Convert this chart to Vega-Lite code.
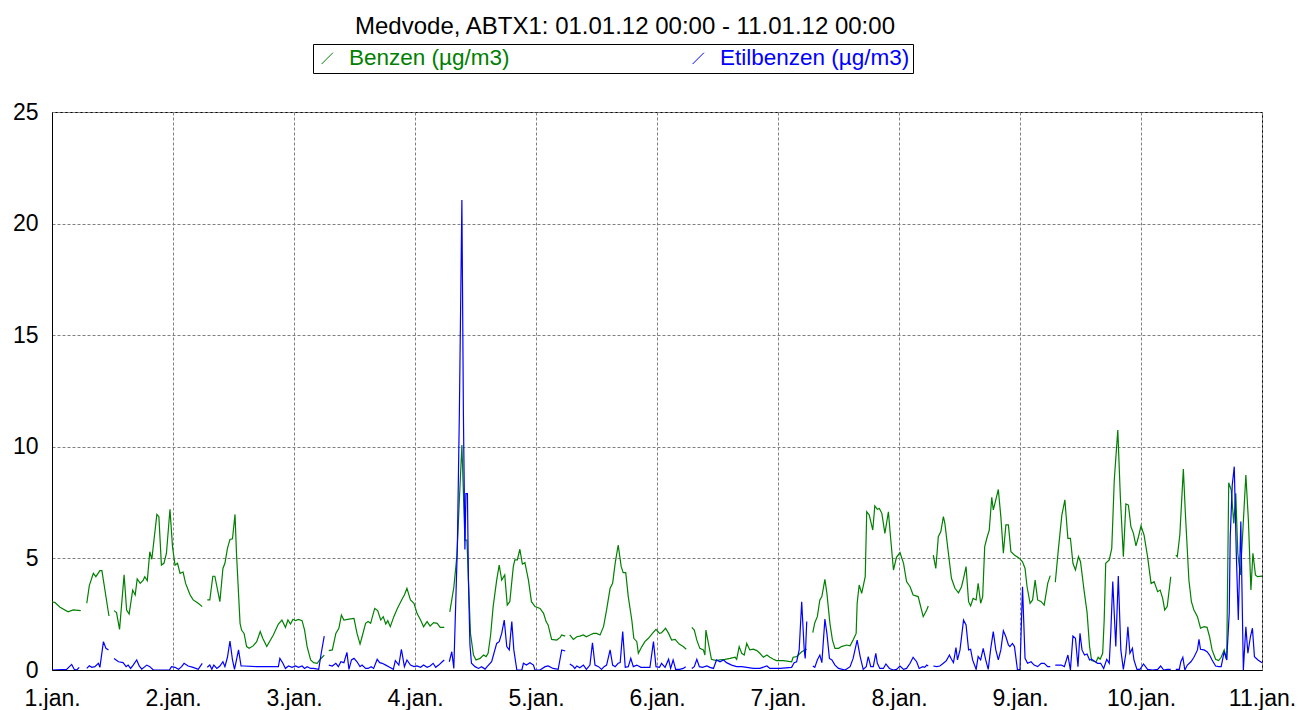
{
"$schema": "https://vega.github.io/schema/vega-lite/v6.json",
"width": 1210, "height": 558,
"autosize": {"type": "none"},
"padding": {"left": 52, "top": 112, "right": 37, "bottom": 40},
"background": "white",
"title": {"text": "Medvode, ABTX1: 01.01.12 00:00 - 11.01.12 00:00", "font": "Liberation Sans", "fontSize": 24, "fontWeight": "normal", "color": "black", "anchor": "middle", "dx": -32, "offset": 5},
"config": {"view": {"stroke": "black", "strokeWidth": 1}},
"data": {"values": [
{"s":"Benzen","h":0,"v":3.06},{"s":"Benzen","h":0.6,"v":3.02},{"s":"Benzen","h":1.6,"v":2.81},{"s":"Benzen","h":3.2,"v":2.61},{"s":"Benzen","h":4.2,"v":2.69},{"s":"Benzen","h":5.7,"v":2.66},{"s":"Benzen","h":6.3,"v":null},
{"s":"Benzen","h":6.9,"v":2.99},{"s":"Benzen","h":7.4,"v":3.78},{"s":"Benzen","h":8.2,"v":4.33},{"s":"Benzen","h":8.7,"v":4.18},{"s":"Benzen","h":9.5,"v":4.45},{"s":"Benzen","h":9.9,"v":4.45},{"s":"Benzen","h":11.3,"v":2.42},{"s":"Benzen","h":11.8,"v":null},
{"s":"Benzen","h":12.3,"v":2.66},{"s":"Benzen","h":12.8,"v":2.57},{"s":"Benzen","h":13.4,"v":1.82},{"s":"Benzen","h":14.3,"v":4.26},{"s":"Benzen","h":14.8,"v":2.69},{"s":"Benzen","h":15.3,"v":2.51},{"s":"Benzen","h":16.0,"v":3.58},{"s":"Benzen","h":16.5,"v":3.36},{"s":"Benzen","h":16.9,"v":4.08},{"s":"Benzen","h":17.5,"v":3.88},{"s":"Benzen","h":18.1,"v":4.03},{"s":"Benzen","h":18.4,"v":4.18},{"s":"Benzen","h":18.9,"v":4.0},{"s":"Benzen","h":19.4,"v":5.3},{"s":"Benzen","h":19.8,"v":4.96},{"s":"Benzen","h":20.8,"v":6.97},{"s":"Benzen","h":21.2,"v":6.87},{"s":"Benzen","h":21.7,"v":4.7},{"s":"Benzen","h":22.2,"v":4.78},{"s":"Benzen","h":22.7,"v":5.23},{"s":"Benzen","h":23.4,"v":7.2},{"s":"Benzen","h":23.9,"v":5.53},{"s":"Benzen","h":24.4,"v":4.7},{"s":"Benzen","h":24.9,"v":4.78},{"s":"Benzen","h":25.4,"v":4.33},{"s":"Benzen","h":26.0,"v":4.39},{"s":"Benzen","h":26.5,"v":3.88},{"s":"Benzen","h":27.4,"v":3.36},{"s":"Benzen","h":28.0,"v":3.14},{"s":"Benzen","h":29.0,"v":2.99},{"s":"Benzen","h":29.8,"v":2.84},{"s":"Benzen","h":30.3,"v":null},
{"s":"Benzen","h":30.8,"v":3.14},{"s":"Benzen","h":31.3,"v":3.14},{"s":"Benzen","h":31.9,"v":4.2},{"s":"Benzen","h":32.3,"v":4.2},{"s":"Benzen","h":33.3,"v":3.06},{"s":"Benzen","h":33.9,"v":4.55},{"s":"Benzen","h":34.3,"v":4.78},{"s":"Benzen","h":34.8,"v":5.45},{"s":"Benzen","h":35.3,"v":5.85},{"s":"Benzen","h":35.8,"v":5.88},{"s":"Benzen","h":36.3,"v":6.97},{"s":"Benzen","h":36.6,"v":5.2},{"s":"Benzen","h":37.3,"v":2.09},{"s":"Benzen","h":37.6,"v":1.79},{"s":"Benzen","h":38.1,"v":1.64},{"s":"Benzen","h":38.6,"v":1.05},{"s":"Benzen","h":39.1,"v":0.97},{"s":"Benzen","h":39.9,"v":1.08},{"s":"Benzen","h":40.6,"v":1.27},{"s":"Benzen","h":41.3,"v":1.72},{"s":"Benzen","h":41.8,"v":1.42},{"s":"Benzen","h":42.6,"v":1.05},{"s":"Benzen","h":43.9,"v":1.57},{"s":"Benzen","h":44.9,"v":2.06},{"s":"Benzen","h":45.6,"v":2.24},{"s":"Benzen","h":46.3,"v":1.91},{"s":"Benzen","h":46.8,"v":2.24},{"s":"Benzen","h":47.3,"v":2.06},{"s":"Benzen","h":47.8,"v":2.27},{"s":"Benzen","h":48.3,"v":2.21},{"s":"Benzen","h":48.9,"v":2.27},{"s":"Benzen","h":49.6,"v":2.21},{"s":"Benzen","h":50.1,"v":1.79},{"s":"Benzen","h":50.6,"v":1.05},{"s":"Benzen","h":51.3,"v":0.45},{"s":"Benzen","h":51.9,"v":0.33},{"s":"Benzen","h":52.6,"v":0.3},{"s":"Benzen","h":53.1,"v":0.45},{"s":"Benzen","h":53.6,"v":0.57},{"s":"Benzen","h":54.0,"v":0.67},{"s":"Benzen","h":54.4,"v":null},
{"s":"Benzen","h":54.9,"v":0.87},{"s":"Benzen","h":55.6,"v":0.9},{"s":"Benzen","h":56.3,"v":1.64},{"s":"Benzen","h":56.9,"v":1.87},{"s":"Benzen","h":57.4,"v":2.46},{"s":"Benzen","h":57.9,"v":2.24},{"s":"Benzen","h":58.9,"v":2.28},{"s":"Benzen","h":59.9,"v":2.31},{"s":"Benzen","h":60.5,"v":1.64},{"s":"Benzen","h":61.1,"v":1.16},{"s":"Benzen","h":61.5,"v":1.49},{"s":"Benzen","h":62.2,"v":2.09},{"s":"Benzen","h":62.7,"v":2.17},{"s":"Benzen","h":63.2,"v":2.09},{"s":"Benzen","h":64.0,"v":2.76},{"s":"Benzen","h":64.6,"v":2.66},{"s":"Benzen","h":65.2,"v":2.24},{"s":"Benzen","h":65.7,"v":2.39},{"s":"Benzen","h":66.2,"v":2.06},{"s":"Benzen","h":66.6,"v":2.21},{"s":"Benzen","h":67.1,"v":1.94},{"s":"Benzen","h":67.8,"v":2.39},{"s":"Benzen","h":68.5,"v":2.76},{"s":"Benzen","h":69.5,"v":3.2},{"s":"Benzen","h":69.9,"v":3.36},{"s":"Benzen","h":70.4,"v":3.66},{"s":"Benzen","h":71.1,"v":3.14},{"s":"Benzen","h":71.8,"v":2.99},{"s":"Benzen","h":72.4,"v":2.54},{"s":"Benzen","h":73.1,"v":2.24},{"s":"Benzen","h":73.7,"v":1.94},{"s":"Benzen","h":74.4,"v":2.17},{"s":"Benzen","h":75.0,"v":1.97},{"s":"Benzen","h":75.7,"v":2.12},{"s":"Benzen","h":76.4,"v":2.09},{"s":"Benzen","h":77.0,"v":1.91},{"s":"Benzen","h":77.8,"v":1.91},{"s":"Benzen","h":78.4,"v":null},
{"s":"Benzen","h":78.9,"v":2.6},{"s":"Benzen","h":79.7,"v":3.7},{"s":"Benzen","h":80.3,"v":5.08},{"s":"Benzen","h":80.8,"v":7.62},{"s":"Benzen","h":81.3,"v":10.08},{"s":"Benzen","h":81.9,"v":5.82},{"s":"Benzen","h":82.3,"v":5.82},{"s":"Benzen","h":82.6,"v":4.03},{"s":"Benzen","h":83.0,"v":1.64},{"s":"Benzen","h":83.6,"v":0.67},{"s":"Benzen","h":84.1,"v":0.45},{"s":"Benzen","h":84.9,"v":0.52},{"s":"Benzen","h":85.6,"v":0.67},{"s":"Benzen","h":86.1,"v":0.6},{"s":"Benzen","h":86.5,"v":0.75},{"s":"Benzen","h":87.0,"v":1.57},{"s":"Benzen","h":87.5,"v":2.84},{"s":"Benzen","h":88.2,"v":4.03},{"s":"Benzen","h":88.7,"v":4.7},{"s":"Benzen","h":89.2,"v":4.03},{"s":"Benzen","h":89.8,"v":4.26},{"s":"Benzen","h":90.3,"v":2.91},{"s":"Benzen","h":90.8,"v":3.06},{"s":"Benzen","h":91.5,"v":4.63},{"s":"Benzen","h":91.8,"v":4.93},{"s":"Benzen","h":92.3,"v":4.93},{"s":"Benzen","h":92.8,"v":5.41},{"s":"Benzen","h":93.3,"v":4.75},{"s":"Benzen","h":93.8,"v":4.81},{"s":"Benzen","h":94.5,"v":4.03},{"s":"Benzen","h":95.1,"v":3.06},{"s":"Benzen","h":95.8,"v":2.84},{"s":"Benzen","h":96.8,"v":2.76},{"s":"Benzen","h":97.5,"v":2.54},{"s":"Benzen","h":98.0,"v":2.17},{"s":"Benzen","h":98.4,"v":2.02},{"s":"Benzen","h":99.1,"v":1.37},{"s":"Benzen","h":100.1,"v":1.34},{"s":"Benzen","h":100.8,"v":1.46},{"s":"Benzen","h":101.1,"v":1.57},{"s":"Benzen","h":101.8,"v":1.52},{"s":"Benzen","h":102.2,"v":null},
{"s":"Benzen","h":102.7,"v":1.57},{"s":"Benzen","h":103.4,"v":1.37},{"s":"Benzen","h":104.1,"v":1.49},{"s":"Benzen","h":104.7,"v":1.52},{"s":"Benzen","h":105.4,"v":1.57},{"s":"Benzen","h":106.0,"v":1.49},{"s":"Benzen","h":106.7,"v":1.57},{"s":"Benzen","h":107.4,"v":1.64},{"s":"Benzen","h":108.0,"v":1.64},{"s":"Benzen","h":108.7,"v":1.57},{"s":"Benzen","h":109.4,"v":1.94},{"s":"Benzen","h":110.0,"v":2.69},{"s":"Benzen","h":110.7,"v":3.66},{"s":"Benzen","h":111.2,"v":3.88},{"s":"Benzen","h":111.7,"v":4.78},{"s":"Benzen","h":112.3,"v":5.6},{"s":"Benzen","h":112.9,"v":4.63},{"s":"Benzen","h":113.3,"v":4.36},{"s":"Benzen","h":113.8,"v":4.36},{"s":"Benzen","h":114.3,"v":3.29},{"s":"Benzen","h":115.0,"v":2.24},{"s":"Benzen","h":115.4,"v":1.42},{"s":"Benzen","h":116.0,"v":1.27},{"s":"Benzen","h":116.3,"v":0.75},{"s":"Benzen","h":117.0,"v":1.05},{"s":"Benzen","h":117.6,"v":1.27},{"s":"Benzen","h":118.3,"v":1.42},{"s":"Benzen","h":119.1,"v":1.64},{"s":"Benzen","h":119.8,"v":1.82},{"s":"Benzen","h":120.5,"v":1.64},{"s":"Benzen","h":120.9,"v":1.67},{"s":"Benzen","h":121.7,"v":1.87},{"s":"Benzen","h":122.3,"v":1.64},{"s":"Benzen","h":122.9,"v":1.34},{"s":"Benzen","h":123.6,"v":1.37},{"s":"Benzen","h":124.4,"v":1.16},{"s":"Benzen","h":125.2,"v":1.05},{"s":"Benzen","h":125.8,"v":0.93},{"s":"Benzen","h":126.3,"v":null},
{"s":"Benzen","h":126.9,"v":1.91},{"s":"Benzen","h":127.4,"v":1.79},{"s":"Benzen","h":127.9,"v":1.34},{"s":"Benzen","h":128.5,"v":0.97},{"s":"Benzen","h":129.2,"v":0.9},{"s":"Benzen","h":129.5,"v":0.67},{"s":"Benzen","h":129.7,"v":1.79},{"s":"Benzen","h":130.2,"v":1.19},{"s":"Benzen","h":130.8,"v":0.48},{"s":"Benzen","h":131.8,"v":0.42},{"s":"Benzen","h":132.5,"v":0.45},{"s":"Benzen","h":133.5,"v":0.48},{"s":"Benzen","h":134.5,"v":0.52},{"s":"Benzen","h":135.5,"v":0.57},{"s":"Benzen","h":135.8,"v":0.48},{"s":"Benzen","h":136.3,"v":1.05},{"s":"Benzen","h":136.8,"v":0.75},{"s":"Benzen","h":137.3,"v":0.67},{"s":"Benzen","h":137.8,"v":1.19},{"s":"Benzen","h":138.4,"v":0.9},{"s":"Benzen","h":139.1,"v":0.93},{"s":"Benzen","h":139.8,"v":0.87},{"s":"Benzen","h":140.4,"v":0.75},{"s":"Benzen","h":141.1,"v":0.57},{"s":"Benzen","h":141.8,"v":0.67},{"s":"Benzen","h":142.4,"v":0.57},{"s":"Benzen","h":143.1,"v":0.48},{"s":"Benzen","h":143.7,"v":0.42},{"s":"Benzen","h":145.1,"v":0.42},{"s":"Benzen","h":146.7,"v":0.37},{"s":"Benzen","h":147.0,"v":0.57},{"s":"Benzen","h":147.7,"v":0.6},{"s":"Benzen","h":148.7,"v":0.82},{"s":"Benzen","h":149.7,"v":0.93},{"s":"Benzen","h":150.3,"v":null},
{"s":"Benzen","h":150.9,"v":1.67},{"s":"Benzen","h":151.3,"v":2.12},{"s":"Benzen","h":151.8,"v":2.39},{"s":"Benzen","h":152.3,"v":3.14},{"s":"Benzen","h":152.7,"v":3.29},{"s":"Benzen","h":153.3,"v":4.06},{"s":"Benzen","h":153.7,"v":3.43},{"s":"Benzen","h":154.3,"v":2.09},{"s":"Benzen","h":154.8,"v":1.34},{"s":"Benzen","h":155.3,"v":0.97},{"s":"Benzen","h":156.0,"v":0.97},{"s":"Benzen","h":156.6,"v":1.05},{"s":"Benzen","h":157.6,"v":1.12},{"s":"Benzen","h":158.3,"v":1.08},{"s":"Benzen","h":158.9,"v":1.34},{"s":"Benzen","h":159.5,"v":1.64},{"s":"Benzen","h":159.7,"v":2.99},{"s":"Benzen","h":160.1,"v":3.81},{"s":"Benzen","h":160.6,"v":3.43},{"s":"Benzen","h":161.3,"v":4.18},{"s":"Benzen","h":161.6,"v":7.09},{"s":"Benzen","h":162.1,"v":6.94},{"s":"Benzen","h":162.8,"v":6.27},{"s":"Benzen","h":163.2,"v":7.35},{"s":"Benzen","h":163.7,"v":7.2},{"s":"Benzen","h":164.1,"v":7.24},{"s":"Benzen","h":164.6,"v":7.02},{"s":"Benzen","h":165.2,"v":6.12},{"s":"Benzen","h":165.9,"v":7.09},{"s":"Benzen","h":166.2,"v":6.27},{"s":"Benzen","h":166.9,"v":4.48},{"s":"Benzen","h":167.5,"v":5.05},{"s":"Benzen","h":168.2,"v":5.26},{"s":"Benzen","h":168.9,"v":4.78},{"s":"Benzen","h":169.5,"v":3.96},{"s":"Benzen","h":170.2,"v":3.73},{"s":"Benzen","h":170.8,"v":3.36},{"s":"Benzen","h":171.8,"v":3.29},{"s":"Benzen","h":172.8,"v":2.39},{"s":"Benzen","h":173.5,"v":2.69},{"s":"Benzen","h":173.8,"v":2.87},{"s":"Benzen","h":174.3,"v":null},
{"s":"Benzen","h":174.8,"v":5.15},{"s":"Benzen","h":175.3,"v":4.55},{"s":"Benzen","h":175.8,"v":5.97},{"s":"Benzen","h":176.3,"v":6.2},{"s":"Benzen","h":176.8,"v":6.87},{"s":"Benzen","h":177.1,"v":6.57},{"s":"Benzen","h":177.8,"v":5.23},{"s":"Benzen","h":178.4,"v":4.11},{"s":"Benzen","h":179.1,"v":3.66},{"s":"Benzen","h":179.8,"v":3.46},{"s":"Benzen","h":180.4,"v":3.73},{"s":"Benzen","h":180.8,"v":4.11},{"s":"Benzen","h":181.3,"v":4.63},{"s":"Benzen","h":181.8,"v":3.06},{"s":"Benzen","h":182.2,"v":2.87},{"s":"Benzen","h":182.7,"v":3.21},{"s":"Benzen","h":183.3,"v":3.14},{"s":"Benzen","h":183.7,"v":3.88},{"s":"Benzen","h":184.2,"v":2.99},{"s":"Benzen","h":184.6,"v":3.29},{"s":"Benzen","h":185.0,"v":5.53},{"s":"Benzen","h":185.5,"v":5.97},{"s":"Benzen","h":185.9,"v":6.27},{"s":"Benzen","h":186.4,"v":7.74},{"s":"Benzen","h":186.7,"v":7.17},{"s":"Benzen","h":187.2,"v":7.62},{"s":"Benzen","h":187.7,"v":8.09},{"s":"Benzen","h":188.2,"v":6.87},{"s":"Benzen","h":188.7,"v":5.23},{"s":"Benzen","h":189.2,"v":6.5},{"s":"Benzen","h":189.7,"v":6.5},{"s":"Benzen","h":190.2,"v":5.3},{"s":"Benzen","h":190.9,"v":5.15},{"s":"Benzen","h":191.9,"v":5.0},{"s":"Benzen","h":192.5,"v":4.85},{"s":"Benzen","h":193.0,"v":4.55},{"s":"Benzen","h":193.4,"v":3.73},{"s":"Benzen","h":194.0,"v":2.99},{"s":"Benzen","h":194.5,"v":3.14},{"s":"Benzen","h":195.0,"v":4.03},{"s":"Benzen","h":195.5,"v":3.14},{"s":"Benzen","h":196.2,"v":3.06},{"s":"Benzen","h":196.8,"v":2.91},{"s":"Benzen","h":197.5,"v":3.88},{"s":"Benzen","h":198.0,"v":4.23},{"s":"Benzen","h":198.5,"v":null},
{"s":"Benzen","h":199.0,"v":3.93},{"s":"Benzen","h":199.6,"v":5.38},{"s":"Benzen","h":200.3,"v":6.94},{"s":"Benzen","h":200.9,"v":7.62},{"s":"Benzen","h":201.5,"v":5.9},{"s":"Benzen","h":202.0,"v":5.9},{"s":"Benzen","h":202.5,"v":4.78},{"s":"Benzen","h":203.0,"v":4.48},{"s":"Benzen","h":203.6,"v":5.08},{"s":"Benzen","h":204.0,"v":4.85},{"s":"Benzen","h":204.7,"v":3.58},{"s":"Benzen","h":205.3,"v":2.58},{"s":"Benzen","h":205.8,"v":1.05},{"s":"Benzen","h":206.2,"v":0.42},{"s":"Benzen","h":207.1,"v":0.37},{"s":"Benzen","h":207.5,"v":0.57},{"s":"Benzen","h":207.9,"v":0.48},{"s":"Benzen","h":208.4,"v":0.75},{"s":"Benzen","h":208.7,"v":2.24},{"s":"Benzen","h":209.0,"v":4.78},{"s":"Benzen","h":209.7,"v":4.93},{"s":"Benzen","h":210.2,"v":5.45},{"s":"Benzen","h":210.7,"v":8.51},{"s":"Benzen","h":211.4,"v":10.75},{"s":"Benzen","h":211.9,"v":7.77},{"s":"Benzen","h":212.5,"v":5.08},{"s":"Benzen","h":213.0,"v":7.44},{"s":"Benzen","h":213.5,"v":7.39},{"s":"Benzen","h":214.0,"v":6.42},{"s":"Benzen","h":214.5,"v":6.12},{"s":"Benzen","h":215.0,"v":5.56},{"s":"Benzen","h":215.5,"v":5.97},{"s":"Benzen","h":216.0,"v":6.45},{"s":"Benzen","h":216.6,"v":6.05},{"s":"Benzen","h":217.3,"v":5.08},{"s":"Benzen","h":218.0,"v":3.88},{"s":"Benzen","h":218.6,"v":3.96},{"s":"Benzen","h":219.3,"v":3.51},{"s":"Benzen","h":219.8,"v":3.58},{"s":"Benzen","h":220.3,"v":3.21},{"s":"Benzen","h":220.7,"v":2.69},{"s":"Benzen","h":221.2,"v":2.84},{"s":"Benzen","h":221.9,"v":4.18},{"s":"Benzen","h":222.4,"v":null},
{"s":"Benzen","h":222.9,"v":5.15},{"s":"Benzen","h":223.2,"v":5.08},{"s":"Benzen","h":223.7,"v":6.05},{"s":"Benzen","h":224.4,"v":9.0},{"s":"Benzen","h":224.8,"v":7.02},{"s":"Benzen","h":225.5,"v":4.03},{"s":"Benzen","h":226.0,"v":3.06},{"s":"Benzen","h":226.5,"v":2.69},{"s":"Benzen","h":227.2,"v":2.39},{"s":"Benzen","h":227.8,"v":1.87},{"s":"Benzen","h":228.5,"v":1.94},{"s":"Benzen","h":229.1,"v":1.91},{"s":"Benzen","h":229.6,"v":1.49},{"s":"Benzen","h":230.1,"v":0.9},{"s":"Benzen","h":230.8,"v":0.48},{"s":"Benzen","h":231.4,"v":0.42},{"s":"Benzen","h":231.9,"v":0.57},{"s":"Benzen","h":232.5,"v":0.9},{"s":"Benzen","h":233.0,"v":0.45},{"s":"Benzen","h":233.4,"v":8.39},{"s":"Benzen","h":233.9,"v":8.06},{"s":"Benzen","h":234.4,"v":6.57},{"s":"Benzen","h":234.8,"v":7.92},{"s":"Benzen","h":235.2,"v":5.23},{"s":"Benzen","h":235.7,"v":4.26},{"s":"Benzen","h":236.1,"v":5.82},{"s":"Benzen","h":236.8,"v":8.74},{"s":"Benzen","h":237.3,"v":6.72},{"s":"Benzen","h":237.8,"v":3.58},{"s":"Benzen","h":238.2,"v":5.23},{"s":"Benzen","h":238.7,"v":4.26},{"s":"Benzen","h":239.1,"v":4.18},{"s":"Benzen","h":240,"v":4.21},
{"s":"Etilbenzen","h":0,"v":0},{"s":"Etilbenzen","h":2.9,"v":0.03},{"s":"Etilbenzen","h":3.9,"v":0.25},{"s":"Etilbenzen","h":4.4,"v":0.03},{"s":"Etilbenzen","h":4.9,"v":0},{"s":"Etilbenzen","h":5.4,"v":0.12},{"s":"Etilbenzen","h":6.2,"v":null},
{"s":"Etilbenzen","h":6.9,"v":0.07},{"s":"Etilbenzen","h":7.4,"v":0.19},{"s":"Etilbenzen","h":7.9,"v":0.12},{"s":"Etilbenzen","h":8.5,"v":0.15},{"s":"Etilbenzen","h":9.2,"v":0.3},{"s":"Etilbenzen","h":9.5,"v":0.12},{"s":"Etilbenzen","h":10.2,"v":1.27},{"s":"Etilbenzen","h":10.7,"v":0.97},{"s":"Etilbenzen","h":11.2,"v":0.9},{"s":"Etilbenzen","h":11.8,"v":null},
{"s":"Etilbenzen","h":12.3,"v":0.52},{"s":"Etilbenzen","h":13.2,"v":0.37},{"s":"Etilbenzen","h":14.1,"v":0.33},{"s":"Etilbenzen","h":14.7,"v":0.15},{"s":"Etilbenzen","h":15.1,"v":0.22},{"s":"Etilbenzen","h":15.6,"v":0.07},{"s":"Etilbenzen","h":16.1,"v":0.22},{"s":"Etilbenzen","h":16.8,"v":0.45},{"s":"Etilbenzen","h":17.3,"v":0.18},{"s":"Etilbenzen","h":17.8,"v":0.04},{"s":"Etilbenzen","h":18.8,"v":0.22},{"s":"Etilbenzen","h":19.4,"v":0.15},{"s":"Etilbenzen","h":20.1,"v":0},{"s":"Etilbenzen","h":23.3,"v":0},{"s":"Etilbenzen","h":23.7,"v":0.15},{"s":"Etilbenzen","h":24.4,"v":0.12},{"s":"Etilbenzen","h":25.1,"v":0.03},{"s":"Etilbenzen","h":25.7,"v":0.15},{"s":"Etilbenzen","h":26.2,"v":0.3},{"s":"Etilbenzen","h":27.0,"v":0.18},{"s":"Etilbenzen","h":28.0,"v":0.12},{"s":"Etilbenzen","h":29.0,"v":0.03},{"s":"Etilbenzen","h":29.8,"v":0.3},{"s":"Etilbenzen","h":30.3,"v":null},
{"s":"Etilbenzen","h":30.8,"v":0.12},{"s":"Etilbenzen","h":31.3,"v":0.22},{"s":"Etilbenzen","h":31.7,"v":0.03},{"s":"Etilbenzen","h":32.1,"v":0.22},{"s":"Etilbenzen","h":32.7,"v":0.07},{"s":"Etilbenzen","h":33.3,"v":0.18},{"s":"Etilbenzen","h":33.9,"v":0.37},{"s":"Etilbenzen","h":34.3,"v":0.15},{"s":"Etilbenzen","h":34.8,"v":0.57},{"s":"Etilbenzen","h":35.3,"v":1.3},{"s":"Etilbenzen","h":35.8,"v":0.45},{"s":"Etilbenzen","h":36.2,"v":0.03},{"s":"Etilbenzen","h":37.0,"v":0.9},{"s":"Etilbenzen","h":37.5,"v":0.18},{"s":"Etilbenzen","h":38.1,"v":0.18},{"s":"Etilbenzen","h":40.6,"v":0.15},{"s":"Etilbenzen","h":43.9,"v":0.15},{"s":"Etilbenzen","h":44.9,"v":0.15},{"s":"Etilbenzen","h":45.2,"v":0.52},{"s":"Etilbenzen","h":45.8,"v":0.3},{"s":"Etilbenzen","h":46.3,"v":0.07},{"s":"Etilbenzen","h":46.9,"v":0.18},{"s":"Etilbenzen","h":47.6,"v":0.12},{"s":"Etilbenzen","h":48.3,"v":0.18},{"s":"Etilbenzen","h":48.9,"v":0.12},{"s":"Etilbenzen","h":49.6,"v":0.18},{"s":"Etilbenzen","h":50.1,"v":0.07},{"s":"Etilbenzen","h":50.6,"v":0.15},{"s":"Etilbenzen","h":51.3,"v":0.07},{"s":"Etilbenzen","h":51.9,"v":0.07},{"s":"Etilbenzen","h":52.9,"v":0.03},{"s":"Etilbenzen","h":53.4,"v":0.75},{"s":"Etilbenzen","h":54.0,"v":1.52},{"s":"Etilbenzen","h":54.4,"v":null},
{"s":"Etilbenzen","h":54.9,"v":0.22},{"s":"Etilbenzen","h":55.6,"v":0.18},{"s":"Etilbenzen","h":56.3,"v":0.3},{"s":"Etilbenzen","h":56.8,"v":0.15},{"s":"Etilbenzen","h":57.3,"v":0.37},{"s":"Etilbenzen","h":57.9,"v":0.33},{"s":"Etilbenzen","h":58.5,"v":0.79},{"s":"Etilbenzen","h":58.9,"v":0.03},{"s":"Etilbenzen","h":59.4,"v":0.45},{"s":"Etilbenzen","h":59.9,"v":0.52},{"s":"Etilbenzen","h":60.5,"v":0.37},{"s":"Etilbenzen","h":61.1,"v":0.15},{"s":"Etilbenzen","h":61.5,"v":0.22},{"s":"Etilbenzen","h":62.2,"v":0.07},{"s":"Etilbenzen","h":62.7,"v":0.07},{"s":"Etilbenzen","h":63.3,"v":0.15},{"s":"Etilbenzen","h":63.8,"v":0.07},{"s":"Etilbenzen","h":64.5,"v":0.48},{"s":"Etilbenzen","h":65.0,"v":0.33},{"s":"Etilbenzen","h":65.5,"v":0.3},{"s":"Etilbenzen","h":66.2,"v":0.22},{"s":"Etilbenzen","h":66.8,"v":0.15},{"s":"Etilbenzen","h":67.7,"v":0.03},{"s":"Etilbenzen","h":68.1,"v":0.42},{"s":"Etilbenzen","h":68.8,"v":0.22},{"s":"Etilbenzen","h":69.3,"v":0.93},{"s":"Etilbenzen","h":69.9,"v":0.15},{"s":"Etilbenzen","h":70.4,"v":0.45},{"s":"Etilbenzen","h":71.1,"v":0.22},{"s":"Etilbenzen","h":71.8,"v":0.15},{"s":"Etilbenzen","h":72.4,"v":0.18},{"s":"Etilbenzen","h":73.1,"v":0.12},{"s":"Etilbenzen","h":73.7,"v":0.22},{"s":"Etilbenzen","h":74.4,"v":0.12},{"s":"Etilbenzen","h":75.0,"v":0.18},{"s":"Etilbenzen","h":75.6,"v":0.3},{"s":"Etilbenzen","h":76.1,"v":0.12},{"s":"Etilbenzen","h":76.7,"v":0.22},{"s":"Etilbenzen","h":77.4,"v":0.37},{"s":"Etilbenzen","h":77.8,"v":0.45},{"s":"Etilbenzen","h":78.3,"v":null},
{"s":"Etilbenzen","h":78.8,"v":0.37},{"s":"Etilbenzen","h":79.3,"v":0.82},{"s":"Etilbenzen","h":79.7,"v":0.07},{"s":"Etilbenzen","h":80.4,"v":5.5},{"s":"Etilbenzen","h":80.8,"v":11.5},{"s":"Etilbenzen","h":81.3,"v":21.06},{"s":"Etilbenzen","h":81.6,"v":11.5},{"s":"Etilbenzen","h":81.9,"v":5.4},{"s":"Etilbenzen","h":82.1,"v":7.9},{"s":"Etilbenzen","h":82.4,"v":7.9},{"s":"Etilbenzen","h":82.6,"v":4.0},{"s":"Etilbenzen","h":82.9,"v":1.12},{"s":"Etilbenzen","h":83.2,"v":0.3},{"s":"Etilbenzen","h":83.9,"v":0.15},{"s":"Etilbenzen","h":84.6,"v":0.07},{"s":"Etilbenzen","h":85.2,"v":0.15},{"s":"Etilbenzen","h":85.9,"v":0.04},{"s":"Etilbenzen","h":86.3,"v":0.15},{"s":"Etilbenzen","h":87.2,"v":0.37},{"s":"Etilbenzen","h":88.2,"v":1.19},{"s":"Etilbenzen","h":88.7,"v":1.27},{"s":"Etilbenzen","h":89.2,"v":1.64},{"s":"Etilbenzen","h":89.7,"v":2.24},{"s":"Etilbenzen","h":90.2,"v":1.05},{"s":"Etilbenzen","h":90.7,"v":0.9},{"s":"Etilbenzen","h":91.2,"v":2.17},{"s":"Etilbenzen","h":91.6,"v":0.9},{"s":"Etilbenzen","h":92.2,"v":0},{"s":"Etilbenzen","h":93.2,"v":0},{"s":"Etilbenzen","h":93.5,"v":0.3},{"s":"Etilbenzen","h":94.1,"v":0.22},{"s":"Etilbenzen","h":94.8,"v":0.33},{"s":"Etilbenzen","h":95.5,"v":0.22},{"s":"Etilbenzen","h":95.8,"v":0},{"s":"Etilbenzen","h":96.8,"v":0},{"s":"Etilbenzen","h":97.8,"v":0.15},{"s":"Etilbenzen","h":98.4,"v":0.18},{"s":"Etilbenzen","h":99.4,"v":0.07},{"s":"Etilbenzen","h":100.4,"v":0.03},{"s":"Etilbenzen","h":101.1,"v":0.9},{"s":"Etilbenzen","h":101.8,"v":0.85},{"s":"Etilbenzen","h":102.2,"v":null},
{"s":"Etilbenzen","h":102.7,"v":0.27},{"s":"Etilbenzen","h":103.3,"v":0.18},{"s":"Etilbenzen","h":103.7,"v":0.07},{"s":"Etilbenzen","h":104.1,"v":0.18},{"s":"Etilbenzen","h":104.7,"v":0.1},{"s":"Etilbenzen","h":105.4,"v":0.22},{"s":"Etilbenzen","h":106.0,"v":0.03},{"s":"Etilbenzen","h":106.7,"v":0.22},{"s":"Etilbenzen","h":107.2,"v":1.22},{"s":"Etilbenzen","h":107.7,"v":0.22},{"s":"Etilbenzen","h":108.4,"v":0.15},{"s":"Etilbenzen","h":109.0,"v":0.03},{"s":"Etilbenzen","h":109.5,"v":0.15},{"s":"Etilbenzen","h":110.0,"v":0.22},{"s":"Etilbenzen","h":110.7,"v":0.9},{"s":"Etilbenzen","h":111.2,"v":0.22},{"s":"Etilbenzen","h":111.7,"v":0.15},{"s":"Etilbenzen","h":112.3,"v":0.3},{"s":"Etilbenzen","h":112.7,"v":0.33},{"s":"Etilbenzen","h":113.2,"v":1.72},{"s":"Etilbenzen","h":113.7,"v":0.12},{"s":"Etilbenzen","h":114.3,"v":0.15},{"s":"Etilbenzen","h":114.8,"v":0.52},{"s":"Etilbenzen","h":115.3,"v":0.15},{"s":"Etilbenzen","h":116.0,"v":0.22},{"s":"Etilbenzen","h":116.8,"v":0.12},{"s":"Etilbenzen","h":117.6,"v":0.12},{"s":"Etilbenzen","h":118.6,"v":0.12},{"s":"Etilbenzen","h":119.3,"v":1.27},{"s":"Etilbenzen","h":119.8,"v":0.15},{"s":"Etilbenzen","h":120.5,"v":0.12},{"s":"Etilbenzen","h":120.9,"v":0.3},{"s":"Etilbenzen","h":121.6,"v":0.12},{"s":"Etilbenzen","h":122.3,"v":0.48},{"s":"Etilbenzen","h":122.7,"v":0.07},{"s":"Etilbenzen","h":123.2,"v":0.45},{"s":"Etilbenzen","h":123.7,"v":0.03},{"s":"Etilbenzen","h":124.5,"v":0.03},{"s":"Etilbenzen","h":125.2,"v":0.07},{"s":"Etilbenzen","h":125.7,"v":0.15},{"s":"Etilbenzen","h":126.3,"v":null},
{"s":"Etilbenzen","h":126.9,"v":0.07},{"s":"Etilbenzen","h":127.4,"v":0.15},{"s":"Etilbenzen","h":127.9,"v":0.48},{"s":"Etilbenzen","h":128.4,"v":0.15},{"s":"Etilbenzen","h":129.0,"v":0.12},{"s":"Etilbenzen","h":129.9,"v":0.18},{"s":"Etilbenzen","h":130.5,"v":0.12},{"s":"Etilbenzen","h":131.2,"v":0.07},{"s":"Etilbenzen","h":131.8,"v":0.45},{"s":"Etilbenzen","h":132.5,"v":0.37},{"s":"Etilbenzen","h":133.2,"v":0.45},{"s":"Etilbenzen","h":133.8,"v":0.33},{"s":"Etilbenzen","h":134.8,"v":0.22},{"s":"Etilbenzen","h":135.8,"v":0.15},{"s":"Etilbenzen","h":136.8,"v":0.15},{"s":"Etilbenzen","h":137.8,"v":0.12},{"s":"Etilbenzen","h":139.1,"v":0.07},{"s":"Etilbenzen","h":140.4,"v":0.07},{"s":"Etilbenzen","h":141.8,"v":0.18},{"s":"Etilbenzen","h":142.4,"v":0.07},{"s":"Etilbenzen","h":144.4,"v":0.07},{"s":"Etilbenzen","h":146.7,"v":0.12},{"s":"Etilbenzen","h":147.2,"v":0.33},{"s":"Etilbenzen","h":147.7,"v":0.37},{"s":"Etilbenzen","h":148.2,"v":0.9},{"s":"Etilbenzen","h":148.7,"v":3.06},{"s":"Etilbenzen","h":149.2,"v":0.9},{"s":"Etilbenzen","h":149.4,"v":0.52},{"s":"Etilbenzen","h":149.7,"v":2.17},{"s":"Etilbenzen","h":150.3,"v":null},
{"s":"Etilbenzen","h":150.9,"v":0.18},{"s":"Etilbenzen","h":151.3,"v":0.12},{"s":"Etilbenzen","h":151.8,"v":0.45},{"s":"Etilbenzen","h":152.3,"v":0.67},{"s":"Etilbenzen","h":152.7,"v":0.33},{"s":"Etilbenzen","h":153.3,"v":2.28},{"s":"Etilbenzen","h":153.7,"v":1.64},{"s":"Etilbenzen","h":154.2,"v":0.52},{"s":"Etilbenzen","h":154.7,"v":0.45},{"s":"Etilbenzen","h":155.3,"v":0.22},{"s":"Etilbenzen","h":156.0,"v":0.07},{"s":"Etilbenzen","h":157.3,"v":0},{"s":"Etilbenzen","h":158.3,"v":0.15},{"s":"Etilbenzen","h":158.9,"v":0.52},{"s":"Etilbenzen","h":159.7,"v":1.34},{"s":"Etilbenzen","h":160.3,"v":0.6},{"s":"Etilbenzen","h":160.9,"v":0.03},{"s":"Etilbenzen","h":161.5,"v":0.15},{"s":"Etilbenzen","h":161.9,"v":0.6},{"s":"Etilbenzen","h":162.4,"v":0.15},{"s":"Etilbenzen","h":162.9,"v":0.15},{"s":"Etilbenzen","h":163.4,"v":0.75},{"s":"Etilbenzen","h":163.7,"v":0.3},{"s":"Etilbenzen","h":164.2,"v":0.07},{"s":"Etilbenzen","h":164.9,"v":0.07},{"s":"Etilbenzen","h":165.4,"v":0.27},{"s":"Etilbenzen","h":166.1,"v":0.07},{"s":"Etilbenzen","h":166.9,"v":0},{"s":"Etilbenzen","h":167.5,"v":0.03},{"s":"Etilbenzen","h":168.2,"v":0.18},{"s":"Etilbenzen","h":168.9,"v":0.03},{"s":"Etilbenzen","h":169.5,"v":0.07},{"s":"Etilbenzen","h":170.2,"v":0.3},{"s":"Etilbenzen","h":170.8,"v":0.57},{"s":"Etilbenzen","h":171.5,"v":0.37},{"s":"Etilbenzen","h":172.0,"v":0.07},{"s":"Etilbenzen","h":172.7,"v":0.15},{"s":"Etilbenzen","h":173.1,"v":0.12},{"s":"Etilbenzen","h":173.5,"v":0.22},{"s":"Etilbenzen","h":173.8,"v":0.18},{"s":"Etilbenzen","h":174.3,"v":null},
{"s":"Etilbenzen","h":174.8,"v":0.18},{"s":"Etilbenzen","h":175.5,"v":0.15},{"s":"Etilbenzen","h":176.1,"v":0.18},{"s":"Etilbenzen","h":176.8,"v":0.3},{"s":"Etilbenzen","h":177.4,"v":0.42},{"s":"Etilbenzen","h":178.0,"v":0.67},{"s":"Etilbenzen","h":178.4,"v":0.48},{"s":"Etilbenzen","h":178.8,"v":0.33},{"s":"Etilbenzen","h":179.3,"v":1.0},{"s":"Etilbenzen","h":179.6,"v":0.45},{"s":"Etilbenzen","h":180.1,"v":0.9},{"s":"Etilbenzen","h":180.8,"v":2.24},{"s":"Etilbenzen","h":181.3,"v":2.02},{"s":"Etilbenzen","h":181.8,"v":0.9},{"s":"Etilbenzen","h":182.2,"v":0.93},{"s":"Etilbenzen","h":182.6,"v":0.45},{"s":"Etilbenzen","h":183.3,"v":0.03},{"s":"Etilbenzen","h":183.7,"v":0.6},{"s":"Etilbenzen","h":184.2,"v":0.45},{"s":"Etilbenzen","h":184.7,"v":0.97},{"s":"Etilbenzen","h":185.2,"v":0.45},{"s":"Etilbenzen","h":185.7,"v":0.03},{"s":"Etilbenzen","h":186.2,"v":0.97},{"s":"Etilbenzen","h":186.7,"v":1.72},{"s":"Etilbenzen","h":187.2,"v":0.9},{"s":"Etilbenzen","h":187.7,"v":0.45},{"s":"Etilbenzen","h":188.2,"v":0.9},{"s":"Etilbenzen","h":188.7,"v":1.76},{"s":"Etilbenzen","h":189.2,"v":1.49},{"s":"Etilbenzen","h":189.7,"v":1.12},{"s":"Etilbenzen","h":190.0,"v":1.05},{"s":"Etilbenzen","h":190.5,"v":1.19},{"s":"Etilbenzen","h":190.9,"v":1.05},{"s":"Etilbenzen","h":191.5,"v":0},{"s":"Etilbenzen","h":192.0,"v":0.03},{"s":"Etilbenzen","h":192.5,"v":3.73},{"s":"Etilbenzen","h":193.0,"v":0.52},{"s":"Etilbenzen","h":193.5,"v":0.3},{"s":"Etilbenzen","h":194.2,"v":0.37},{"s":"Etilbenzen","h":194.8,"v":0.22},{"s":"Etilbenzen","h":195.5,"v":0.15},{"s":"Etilbenzen","h":196.2,"v":0.3},{"s":"Etilbenzen","h":196.8,"v":0.3},{"s":"Etilbenzen","h":197.5,"v":0.15},{"s":"Etilbenzen","h":198.0,"v":0.15},{"s":"Etilbenzen","h":198.5,"v":null},
{"s":"Etilbenzen","h":199.0,"v":0.22},{"s":"Etilbenzen","h":200.2,"v":0.22},{"s":"Etilbenzen","h":200.8,"v":0.15},{"s":"Etilbenzen","h":201.5,"v":0.67},{"s":"Etilbenzen","h":202.0,"v":0},{"s":"Etilbenzen","h":202.5,"v":1.52},{"s":"Etilbenzen","h":203.0,"v":1.42},{"s":"Etilbenzen","h":203.5,"v":0.15},{"s":"Etilbenzen","h":203.9,"v":1.64},{"s":"Etilbenzen","h":204.3,"v":0.9},{"s":"Etilbenzen","h":204.8,"v":0.67},{"s":"Etilbenzen","h":205.3,"v":0.72},{"s":"Etilbenzen","h":205.8,"v":0.45},{"s":"Etilbenzen","h":206.2,"v":0.48},{"s":"Etilbenzen","h":206.9,"v":0.37},{"s":"Etilbenzen","h":207.4,"v":0.3},{"s":"Etilbenzen","h":208.0,"v":0.3},{"s":"Etilbenzen","h":208.6,"v":0.07},{"s":"Etilbenzen","h":209.2,"v":0.48},{"s":"Etilbenzen","h":209.7,"v":0.3},{"s":"Etilbenzen","h":210.0,"v":1.64},{"s":"Etilbenzen","h":210.4,"v":3.96},{"s":"Etilbenzen","h":211.0,"v":1.05},{"s":"Etilbenzen","h":211.5,"v":4.21},{"s":"Etilbenzen","h":212.0,"v":0.9},{"s":"Etilbenzen","h":212.5,"v":0.03},{"s":"Etilbenzen","h":213.0,"v":0.75},{"s":"Etilbenzen","h":213.4,"v":1.94},{"s":"Etilbenzen","h":213.8,"v":0.75},{"s":"Etilbenzen","h":214.3,"v":0.97},{"s":"Etilbenzen","h":214.6,"v":0.45},{"s":"Etilbenzen","h":215.2,"v":0.03},{"s":"Etilbenzen","h":215.8,"v":0.03},{"s":"Etilbenzen","h":216.5,"v":0.27},{"s":"Etilbenzen","h":217.3,"v":0.03},{"s":"Etilbenzen","h":218.3,"v":0},{"s":"Etilbenzen","h":219.3,"v":0.03},{"s":"Etilbenzen","h":219.9,"v":0.18},{"s":"Etilbenzen","h":220.5,"v":0},{"s":"Etilbenzen","h":221.2,"v":0.03},{"s":"Etilbenzen","h":221.9,"v":0.03},{"s":"Etilbenzen","h":222.4,"v":null},
{"s":"Etilbenzen","h":222.9,"v":0.03},{"s":"Etilbenzen","h":223.6,"v":0.03},{"s":"Etilbenzen","h":223.9,"v":0.37},{"s":"Etilbenzen","h":224.3,"v":0.57},{"s":"Etilbenzen","h":224.7,"v":0},{"s":"Etilbenzen","h":225.2,"v":0.22},{"s":"Etilbenzen","h":225.9,"v":0.37},{"s":"Etilbenzen","h":226.5,"v":0.57},{"s":"Etilbenzen","h":227.2,"v":0.9},{"s":"Etilbenzen","h":227.5,"v":1.37},{"s":"Etilbenzen","h":227.8,"v":0.93},{"s":"Etilbenzen","h":228.5,"v":0.9},{"s":"Etilbenzen","h":229.1,"v":0.82},{"s":"Etilbenzen","h":229.6,"v":0.67},{"s":"Etilbenzen","h":230.1,"v":0.45},{"s":"Etilbenzen","h":230.8,"v":0.18},{"s":"Etilbenzen","h":231.4,"v":0.15},{"s":"Etilbenzen","h":231.9,"v":0.15},{"s":"Etilbenzen","h":232.5,"v":0.82},{"s":"Etilbenzen","h":233.0,"v":0.45},{"s":"Etilbenzen","h":233.5,"v":2.54},{"s":"Etilbenzen","h":233.7,"v":5.97},{"s":"Etilbenzen","h":234.1,"v":8.29},{"s":"Etilbenzen","h":234.5,"v":9.11},{"s":"Etilbenzen","h":234.9,"v":5.23},{"s":"Etilbenzen","h":235.3,"v":2.24},{"s":"Etilbenzen","h":235.8,"v":6.65},{"s":"Etilbenzen","h":236.3,"v":0},{"s":"Etilbenzen","h":236.8,"v":1.94},{"s":"Etilbenzen","h":237.2,"v":0.75},{"s":"Etilbenzen","h":237.7,"v":1.49},{"s":"Etilbenzen","h":238.1,"v":1.87},{"s":"Etilbenzen","h":238.5,"v":0.6},{"s":"Etilbenzen","h":239.2,"v":0.45},{"s":"Etilbenzen","h":240,"v":0.33}
]},
"mark": {"type": "line", "strokeWidth": 1.2, "invalid": "break-paths-show-domains", "clip": true},
"encoding": {
  "x": {"field": "h", "type": "quantitative", "sort": null,
    "scale": {"domain": [0, 240], "nice": false, "zero": false},
    "axis": {"values": [0,24,48,72,96,120,144,168,192,216,240], "labelExpr": "(datum.value/24+1) + '.jan.'", "title": null, "grid": true, "gridColor": "#808080", "gridDash": [3,2], "gridWidth": 1, "gridOpacity": 1, "ticks": false, "domainColor": "black", "domainWidth": 1, "labelFont": "Liberation Sans", "labelFontSize": 23, "labelColor": "black", "labelPadding": 17, "labelOverlap": false, "labelFlush": false, "labelBound": false}},
  "y": {"field": "v", "type": "quantitative",
    "scale": {"domain": [0, 25], "nice": false},
    "axis": {"values": [0,5,10,15,20,25], "title": null, "grid": true, "gridColor": "#808080", "gridDash": [3,2], "gridWidth": 1, "gridOpacity": 1, "ticks": false, "domainColor": "black", "domainWidth": 1, "labelFont": "Liberation Sans", "labelFontSize": 23, "labelColor": "black", "labelPadding": 14, "labelOverlap": false, "labelFlush": false, "labelBound": false}},
  "color": {"field": "s", "type": "nominal",
    "scale": {"domain": ["Benzen", "Etilbenzen"], "range": ["#008000", "#0000ff"]},
    "legend": {"orient": "none", "legendX": 261, "legendY": -68, "direction": "horizontal", "title": null, "labelExpr": "datum.label + ' (µg/m3)'", "symbolType": "M-1,1L1,-1", "symbolSize": 130, "symbolStrokeWidth": 1, "labelFont": "Liberation Sans", "labelFontSize": 22.5, "labelOffset": 10.5, "columnPadding": 177, "padding": 3, "strokeColor": "black", "fillColor": "white", "labelLimit": 400,
      "encode": {"labels": {"update": {"fill": [{"test": "datum.value === 'Benzen'", "value": "#008000"}, {"value": "#0000ff"}]}}}}}
}
}
